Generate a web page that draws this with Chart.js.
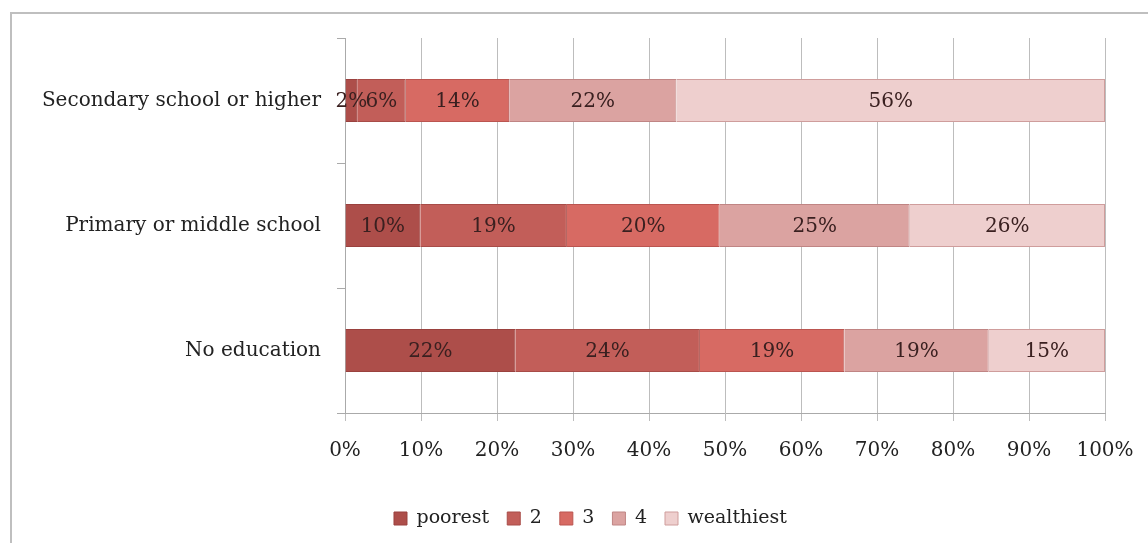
<!DOCTYPE html>
<html>
<head>
<meta charset="utf-8">
<script src="https://cdn.jsdelivr.net/npm/chart.js@4"></script>
<style>
  html, body { margin: 0; padding: 0; background: #fff; overflow: hidden; }
  #frame { position: absolute; left: 10px; top: 12px; width: 1200px; height: 600px; border: 2px solid #bfbfbf; }
  #chart { position: absolute; left: 0; top: 0; }
</style>
</head>
<body>
<div id="frame"></div>
<canvas id="chart" width="1148" height="543"></canvas>
<script>
// categories top to bottom
const categories = ["Secondary school or higher", "Primary or middle school", "No education"];
const seriesNames = ["poorest", "2", "3", "4", "wealthiest"];

// share of each wealth quintile, percent
const poorest    = [1.6, 9.9, 22.4];
const q2         = [6.4, 19.3, 24.3];
const q3         = [13.6, 20.1, 19.0];
const q4         = [22.0, 25.0, 19.0];
const wealthiest = [56.4, 25.7, 15.3];

const xTicks = [0, 10, 20, 30, 40, 50, 60, 70, 80, 90, 100];

const fills   = ["#ad4e4a", "#c25e59", "#d76a63", "#dba3a1", "#eecfce"];
const borders = ["#9a413e", "#a84c48", "#bb5550", "#c08584", "#cf9d9c"];
const allValues = [poorest, q2, q3, q4, wealthiest];

const FONT = "'DejaVu Serif', serif";

const barLabels = {
    id: "barLabels",
    afterDatasetsDraw(chart) {
        const ctx = chart.ctx;
        ctx.save();
        ctx.font = "20px " + FONT;
        ctx.fillStyle = "#3a2020";
        ctx.textAlign = "center";
        ctx.textBaseline = "middle";
        chart.data.datasets.forEach((ds, i) => {
            const meta = chart.getDatasetMeta(i);
            meta.data.forEach((bar, j) => {
                const v = ds.data[j];
                ctx.fillText(Math.round(v) + "%", (bar.x + bar.base) / 2, bar.y + 1);
            });
        });
        ctx.restore();
    }
};

// legend sits a bit right of the canvas centre in the original
const legendShift = {
    id: "legendShift",
    afterLayout(chart) {
        chart.legend.left += 66;
        chart.legend.top -= 1;
        chart.legend.bottom -= 1;
    }
};

new Chart(document.getElementById("chart"), {
    type: "bar",
    data: {
        labels: categories,
        datasets: seriesNames.map((name, i) => ({
            label: name,
            data: allValues[i],
            backgroundColor: fills[i],
            borderColor: borders[i],
            borderWidth: 1,
            categoryPercentage: 1,
            barPercentage: 0.345
        }))
    },
    options: {
        indexAxis: "y",
        responsive: false,
        devicePixelRatio: 1,
        animation: false,
        layout: { padding: { left: 10, top: 38, right: 43, bottom: 4 } },
        plugins: {
            legend: {
                position: "bottom",
                labels: {
                    font: { family: FONT, size: 19 },
                    color: "#222",
                    boxWidth: 13,
                    boxHeight: 13,
                    padding: 18
                }
            },
            tooltip: { enabled: false }
        },
        scales: {
            x: {
                stacked: true,
                min: 0,
                max: 100,
                afterBuildTicks: (s) => { s.ticks = xTicks.map(v => ({ value: v })); },
                afterFit: (s) => {
                    s.height = 79;
                    s.paddingLeft = 0;
                    s.paddingRight = 0;
                },
                grid: { color: "#bdbdbd", tickLength: 8 },
                border: { color: "#aaaaaa" },
                ticks: {
                    font: { family: FONT, size: 20 },
                    color: "#222",
                    padding: 18,
                    callback: (v) => v + "%"
                }
            },
            y: {
                stacked: true,
                afterFit: (s) => { s.width = 335; },
                grid: { offset: true, drawOnChartArea: false, color: "#aaaaaa", tickLength: 8 },
                border: { color: "#aaaaaa" },
                ticks: {
                    font: { family: FONT, size: 20 },
                    color: "#222",
                    padding: 16
                }
            }
        }
    },
    plugins: [barLabels, legendShift]
});
</script>
</body>
</html>
